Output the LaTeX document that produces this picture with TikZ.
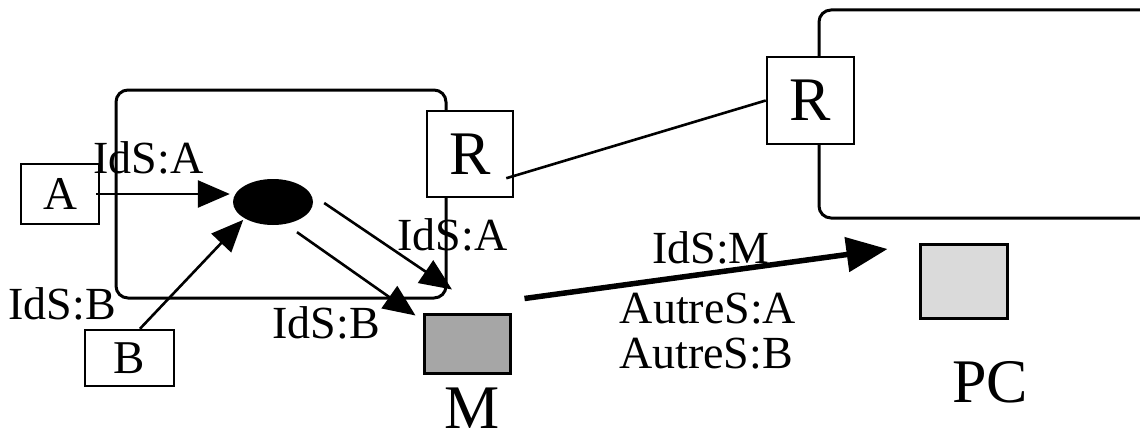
\documentclass[tikz,border=0pt]{standalone}
\usepackage{fontspec}
\setmainfont{Liberation Serif}
\usetikzlibrary{arrows.meta,shapes.geometric}
\definecolor{mgray}{HTML}{A6A6A6}
\definecolor{pcgray}{HTML}{DADADA}
\tikzset{
 box/.style={draw,line width=2.5pt,fill=white,inner sep=0pt,font=\fontsize{47}{50}\selectfont},
 bigbox/.style={box,font=\fontsize{62}{64}\selectfont},
 lbl/.style={anchor=base,inner sep=0pt,font=\fontsize{46}{50}\selectfont},
 biglbl/.style={anchor=base,inner sep=0pt,font=\fontsize{62}{64}\selectfont},
 frame/.style={draw,line width=3pt,rounded corners=12pt},
 conn/.style={line width=2.6pt},
 arr/.style={conn,-{Triangle[length=32pt,width=27pt]}},
 bigarr/.style={line width=5.5pt,-{Triangle[length=41pt,width=34pt]}},
}
\begin{document}
\begin{tikzpicture}[x=1pt,y=-1pt]
\useasboundingbox (0,0) rectangle (1140,436);
% frames
\node[frame,minimum width=330pt,minimum height=208pt,inner sep=0pt] (sysL) at (281,194) {};
\draw[frame] (1140,10) -- (819,10) -- (819,218) -- (1140,218);
% boxes
\node[box,minimum width=78pt,minimum height=60pt] (A) at (60,194) {A};
\node[box,minimum width=89pt,minimum height=56pt] (B) at (129.5,358) {B};
\node[bigbox,minimum width=86pt,minimum height=86pt] (Rl) at (470,154) {R};
\node[bigbox,minimum width=87pt,minimum height=87pt] (Rr) at (810.5,100.5) {R};
\node[ellipse,fill=black,minimum width=80pt,minimum height=46pt,inner sep=0pt] (ell) at (273,202) {};
\node[draw,line width=3pt,fill=mgray,minimum width=86pt,minimum height=59pt,inner sep=0pt] (M) at (467,343.5) {};
\node[draw,line width=3pt,fill=pcgray,minimum width=87pt,minimum height=74pt,inner sep=0pt] (PC) at (963.5,281) {};
% connectors
\draw[arr] ([xshift=-4pt]A.east) -- ([shift={(-3,-8)}]ell.west);
\draw[arr,shorten >=2pt] ([xshift=10.5pt]B.north) -- (ell.south west);
\draw[arr] ([shift={(11,1)}]ell.east) -- ([shift={(-15,-23)}]M.north);
\draw[arr] ([shift={(24,7)}]ell.south) -- ([shift={(-7,3)}]M.north west);
\draw[conn] ([shift={(-8,-20)}]Rl.south east) -- (Rr.west);
\draw[bigarr] ([shift={(13,-14)}]M.north east) -- ([shift={(-31,-32)}]PC.west);
% labels
\node[lbl] (lIdSA) at (148.5,173) {IdS:A};
\node[lbl] (lIdSB) at (62,319) {IdS:B};
\node[lbl] (lIdSA2) at (452.5,250) {IdS:A};
\node[lbl] (lIdSB2) at (326,338) {IdS:B};
\node[lbl] (lIdSM) at (711,263) {IdS:M};
\node[lbl] (lAutA) at (708,323) {AutreS:A};
\node[lbl] (lAutB) at (706,368) {AutreS:B};
\node[biglbl] (lM) at (472,428) {M};
\node[biglbl] (lPC) at (990,402) {PC};
\end{tikzpicture}
\end{document}
